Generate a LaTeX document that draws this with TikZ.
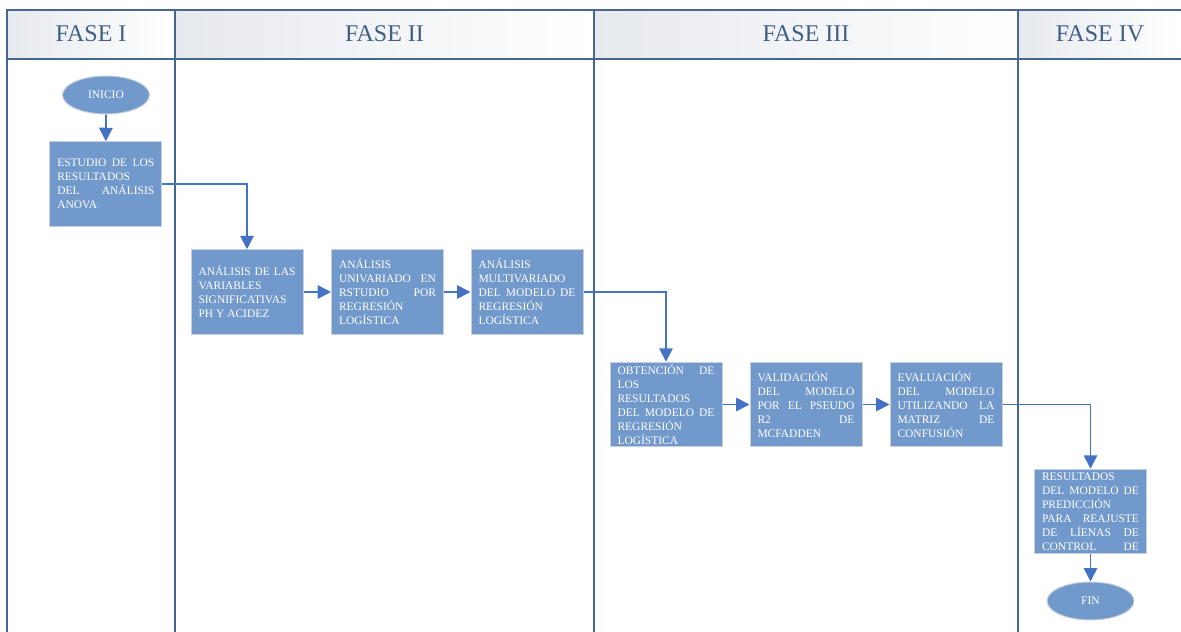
\documentclass[tikz,border=0pt]{standalone}
\usepackage{fontspec}
\setmainfont{Liberation Serif}
\usetikzlibrary{shapes.geometric,arrows.meta}

\definecolor{cajaazul}{HTML}{7299CB}
\definecolor{bordecaja}{HTML}{C7D0DA}
\definecolor{flechaazul}{HTML}{4472C4}
\definecolor{lineatabla}{HTML}{44668F}
\definecolor{textofase}{HTML}{3F5F87}
\definecolor{grisfase}{HTML}{E6E9EE}

\tikzset{
  caja/.style={rectangle, draw=bordecaja, line width=1pt, fill=cajaazul,
    text=white, text width=97pt, inner xsep=7.5pt, inner ysep=1pt,
    minimum height=84.5pt, align=justify,
    font=\fontsize{11.5}{14}\selectfont},
  elipse/.style={ellipse, draw=bordecaja, line width=1pt, fill=cajaazul,
    text=white, minimum width=87pt, minimum height=38pt, inner sep=0pt,
    font=\fontsize{11.5}{14}\selectfont},
  flecha/.style={flechaazul, line width=1.8pt,
    -{Triangle[width=13.5pt,length=13.5pt]}},
  fase/.style={text=textofase, font=\fontsize{24}{28}\selectfont}
}

\begin{document}
\begin{tikzpicture}[x=1pt,y=-1pt]
  \useasboundingbox (0,0) rectangle (1181,632);

  % Header cells
  \shade[left color=grisfase, right color=white] (7,10) rectangle (175,59);
  \shade[left color=grisfase, right color=white] (175,10) rectangle (594,59);
  \shade[left color=grisfase, right color=white] (594,10) rectangle (1018,59);
  \shade[left color=grisfase, right color=white] (1018,10) rectangle (1181,59);
  \node[fase] (fase1) at (91,34) {FASE I};
  \node[fase] (fase2) at (384.5,34) {FASE II};
  \node[fase] (fase3) at (806,34) {FASE III};
  \node[fase] (fase4) at (1100,34) {FASE IV};

  % Table lines
  \draw[lineatabla, line width=1.5pt] (1181,10) -- (7,10) -- (7,632);
  \draw[lineatabla, line width=1.5pt] (7,59) -- (1181,59);
  \draw[lineatabla, line width=1.5pt] (175,10) -- (175,632);
  \draw[lineatabla, line width=1.5pt] (594,10) -- (594,632);
  \draw[lineatabla, line width=1.5pt] (1018,10) -- (1018,632);

  % Fase I
  \node[elipse] (inicio) at (106,95) {INICIO};
  \node[caja] (estudio) at (105.75,184) {ESTUDIO DE LOS\linebreak RESULTADOS\linebreak DEL ANÁLISIS\linebreak ANOVA};

  % Fase II
  \node[caja] (variables) at (247,292) {ANÁLISIS DE LAS\linebreak VARIABLES\linebreak SIGNIFICATIVAS\linebreak PH Y ACIDEZ};
  \node[caja] (univariado) at (387.5,292) {ANÁLISIS\linebreak UNIVARIADO EN\linebreak RSTUDIO POR\linebreak REGRESIÓN\linebreak LOGÍSTICA};
  \node[caja] (multivariado) at (527,292) {ANÁLISIS\linebreak MULTIVARIADO\linebreak DEL MODELO DE\linebreak REGRESIÓN\linebreak LOGÍSTICA};

  % Fase III
  \node[caja] (obtencion) at (666,404.5) {OBTENCIÓN DE\linebreak LOS\linebreak RESULTADOS\linebreak DEL MODELO DE\linebreak REGRESIÓN\linebreak LOGÍSTICA};
  \node[caja] (validacion) at (806,404.5) {VALIDACIÓN\linebreak DEL MODELO\linebreak POR EL PSEUDO\linebreak R2 DE\linebreak MCFADDEN};
  \node[caja] (evaluacion) at (946,404.5) {EVALUACIÓN\linebreak DEL MODELO\linebreak UTILIZANDO LA\linebreak MATRIZ DE\linebreak CONFUSIÓN};

  % Fase IV
  \node[caja] (resultados) at (1090.5,511.5) {RESULTADOS\linebreak DEL MODELO DE\linebreak PREDICCIÓN\linebreak PARA REAJUSTE\linebreak DE LÍENAS DE\linebreak CONTROL\hfill DE};
  \node[elipse] (fin) at (1090.5,601) {FIN};

  % Connectors
  \draw[flecha] (inicio) -- (estudio);
  \draw[flecha] (estudio.east) -| (variables.north);
  \draw[flecha] (variables) -- (univariado);
  \draw[flecha] (univariado) -- (multivariado);
  \draw[flecha] (multivariado.east) -| (obtencion.north);
  \draw[flecha] (obtencion) -- (validacion);
  \draw[flecha] (validacion) -- (evaluacion);
  \draw[flecha] (evaluacion.east) -| (resultados.north);
  \draw[flecha] (resultados) -- (fin);
\end{tikzpicture}
\end{document}
